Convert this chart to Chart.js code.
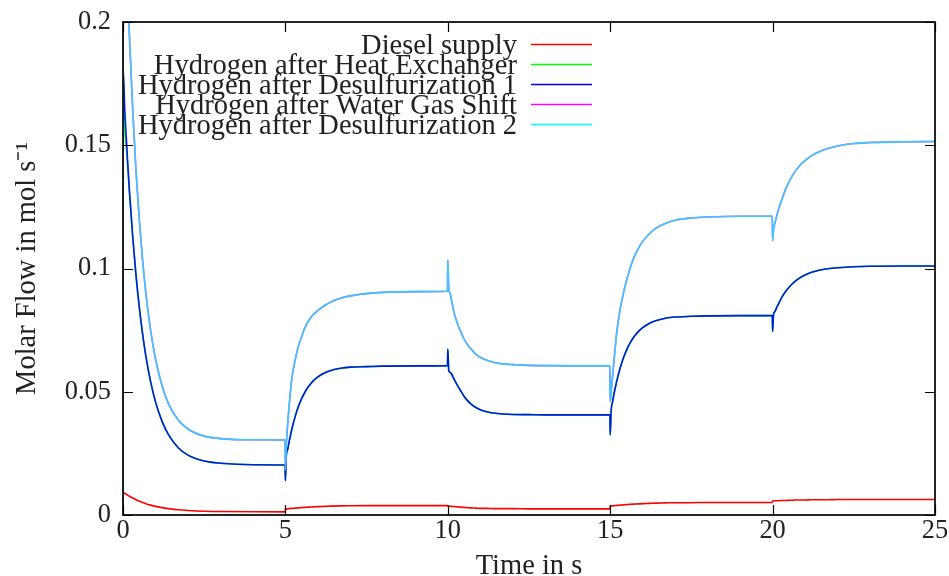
<!DOCTYPE html>
<html><head><meta charset="utf-8">
<script src="https://cdn.jsdelivr.net/npm/chart.js@4.4.1/dist/chart.umd.min.js"></script>
<style>html,body{margin:0;padding:0;background:#fff;}canvas{display:block;}</style>
</head><body>
<canvas id="c" width="949" height="576"></canvas>
<script>
// ---- data ----
const time = [
  0, 0.01, 0.05, 0.1, 0.15, 0.2, 0.3, 0.4, 0.5, 0.6, 0.7, 0.85, 1.0, 1.2, 1.4, 1.7, 2.0, 2.5, 3.0, 4.0, 4.99,
  5.0, 5.03, 5.07, 5.12, 5.2, 5.3, 5.4, 5.5, 5.6, 5.7, 5.85, 6.0, 6.2, 6.4, 6.7, 7.0, 7.5, 8.0, 9.0, 9.99,
  10.0, 10.03, 10.07, 10.12, 10.2, 10.3, 10.4, 10.5, 10.6, 10.7, 10.85, 11.0, 11.2, 11.4, 11.7, 12.0, 12.5, 13.0, 14.0, 14.99,
  15.0, 15.03, 15.07, 15.12, 15.2, 15.3, 15.4, 15.5, 15.6, 15.7, 15.85, 16.0, 16.2, 16.4, 16.7, 17.0, 17.5, 18.0, 19.0, 19.99,
  20.0, 20.03, 20.07, 20.12, 20.2, 20.3, 20.4, 20.5, 20.6, 20.7, 20.85, 21.0, 21.2, 21.4, 21.7, 22.0, 22.5, 23.0, 24.0, 25.0
];
const dieselSupply = [
  0.0092, 0.0092, 0.0088, 0.0084, 0.0080, 0.0076, 0.0069, 0.0062, 0.0056, 0.0051, 0.0046, 0.0040, 0.0035, 0.0030, 0.0026, 0.0021, 0.0018, 0.0015, 0.0014, 0.0013, 0.00128,
  0.0024, 0.0025, 0.0025, 0.0026, 0.0027, 0.0028, 0.0029, 0.0030, 0.0031, 0.0032, 0.0033, 0.0034, 0.0035, 0.0036, 0.0037, 0.00375, 0.0038, 0.0038, 0.0038, 0.0038,
  0.0036, 0.0036, 0.0035, 0.0035, 0.0034, 0.0033, 0.0032, 0.0031, 0.0030, 0.0029, 0.0028, 0.0027, 0.0027, 0.0026, 0.0026, 0.0026, 0.0025, 0.0025, 0.0025, 0.0025,
  0.0036, 0.0037, 0.0037, 0.0038, 0.0039, 0.0040, 0.0041, 0.0042, 0.0043, 0.0044, 0.0045, 0.0046, 0.0047, 0.0048, 0.0049, 0.0050, 0.0050, 0.0051, 0.0051, 0.0051,
  0.0057, 0.0057, 0.0058, 0.0058, 0.0058, 0.0059, 0.0059, 0.0060, 0.0060, 0.0061, 0.0061, 0.0061, 0.0062, 0.0062, 0.0062, 0.0063, 0.0063, 0.0063, 0.0063, 0.0063
];
const h2HeatExchanger = [
  0, 0.178, 0.158, 0.150, 0.1405, 0.1305, 0.1128, 0.0973, 0.0845, 0.0738, 0.0648, 0.0541, 0.0459, 0.0381, 0.0326, 0.0273, 0.0243, 0.0219, 0.0210, 0.0204, 0.0203,
  0.0139, 0.0243, 0.0266, 0.0301, 0.0349, 0.0399, 0.0440, 0.0472, 0.0498, 0.0519, 0.0543, 0.0560, 0.0576, 0.0586, 0.0595, 0.0600, 0.0602, 0.0604, 0.0605, 0.0606,
  0.0673, 0.0585, 0.0579, 0.0571, 0.0549, 0.0525, 0.0503, 0.0482, 0.0465, 0.0452, 0.0437, 0.0427, 0.0419, 0.0414, 0.0410, 0.0408, 0.0407, 0.0406, 0.0406, 0.0406,
  0.0325, 0.0425, 0.0457, 0.0493, 0.0542, 0.0593, 0.0635, 0.0668, 0.0695, 0.0717, 0.0742, 0.0760, 0.0777, 0.0788, 0.0798, 0.0803, 0.0806, 0.0808, 0.0809, 0.0809,
  0.0744, 0.0815, 0.0825, 0.0840, 0.0862, 0.0887, 0.0907, 0.0923, 0.0937, 0.0949, 0.0963, 0.0974, 0.0985, 0.0992, 0.0999, 0.1003, 0.1007, 0.1009, 0.1010, 0.1010
];
const h2Desulf1 = [
  0, 0.180, 0.166, 0.1534, 0.1418, 0.1312, 0.1128, 0.0973, 0.0845, 0.0738, 0.0648, 0.0541, 0.0459, 0.0381, 0.0326, 0.0273, 0.0243, 0.0219, 0.0210, 0.0204, 0.0203,
  0.0139, 0.0243, 0.0266, 0.0301, 0.0349, 0.0399, 0.0440, 0.0472, 0.0498, 0.0519, 0.0543, 0.0560, 0.0576, 0.0586, 0.0595, 0.0600, 0.0602, 0.0604, 0.0605, 0.0606,
  0.0673, 0.0585, 0.0579, 0.0571, 0.0549, 0.0525, 0.0503, 0.0482, 0.0465, 0.0452, 0.0437, 0.0427, 0.0419, 0.0414, 0.0410, 0.0408, 0.0407, 0.0406, 0.0406, 0.0406,
  0.0325, 0.0425, 0.0457, 0.0493, 0.0542, 0.0593, 0.0635, 0.0668, 0.0695, 0.0717, 0.0742, 0.0760, 0.0777, 0.0788, 0.0798, 0.0803, 0.0806, 0.0808, 0.0809, 0.0809,
  0.0744, 0.0815, 0.0825, 0.0840, 0.0862, 0.0887, 0.0907, 0.0923, 0.0937, 0.0949, 0.0963, 0.0974, 0.0985, 0.0992, 0.0999, 0.1003, 0.1007, 0.1009, 0.1010, 0.1010
];
const h2WaterGasShift = [
  0, 0.27, 0.251, 0.230, 0.211, 0.1937, 0.1642, 0.1398, 0.1201, 0.1038, 0.0905, 0.0749, 0.0634, 0.0525, 0.0452, 0.0385, 0.0349, 0.0320, 0.0310, 0.0305, 0.0304,
  0.0183, 0.0290, 0.0370, 0.0450, 0.0555, 0.0628, 0.0685, 0.0723, 0.0760, 0.0785, 0.0812, 0.0830, 0.0849, 0.0864, 0.0879, 0.0889, 0.0898, 0.0903, 0.0906, 0.0908,
  0.1034, 0.0915, 0.0900, 0.0868, 0.0818, 0.0776, 0.0743, 0.0714, 0.0693, 0.0676, 0.0654, 0.0640, 0.0628, 0.0620, 0.0613, 0.0610, 0.0607, 0.0606, 0.0605, 0.0605,
  0.0460, 0.0500, 0.0560, 0.0630, 0.0740, 0.0830, 0.0895, 0.0950, 0.0995, 0.1035, 0.1078, 0.1110, 0.1140, 0.1163, 0.1183, 0.1196, 0.1205, 0.1209, 0.1212, 0.1212,
  0.1113, 0.1160, 0.1183, 0.1210, 0.1247, 0.1285, 0.1322, 0.1350, 0.1375, 0.1395, 0.1420, 0.1438, 0.1458, 0.1472, 0.1487, 0.1497, 0.1507, 0.1511, 0.1514, 0.1515
];
const h2Desulf2 = [
  0, 0.27, 0.251, 0.230, 0.211, 0.1937, 0.1642, 0.1398, 0.1201, 0.1038, 0.0905, 0.0749, 0.0634, 0.0525, 0.0452, 0.0385, 0.0349, 0.0320, 0.0310, 0.0305, 0.0304,
  0.0183, 0.0290, 0.0370, 0.0450, 0.0555, 0.0628, 0.0685, 0.0723, 0.0760, 0.0785, 0.0812, 0.0830, 0.0849, 0.0864, 0.0879, 0.0889, 0.0898, 0.0903, 0.0906, 0.0908,
  0.1034, 0.0915, 0.0900, 0.0868, 0.0818, 0.0776, 0.0743, 0.0714, 0.0693, 0.0676, 0.0654, 0.0640, 0.0628, 0.0620, 0.0613, 0.0610, 0.0607, 0.0606, 0.0605, 0.0605,
  0.0460, 0.0500, 0.0560, 0.0630, 0.0740, 0.0830, 0.0895, 0.0950, 0.0995, 0.1035, 0.1078, 0.1110, 0.1140, 0.1163, 0.1183, 0.1196, 0.1205, 0.1209, 0.1212, 0.1212,
  0.1113, 0.1160, 0.1183, 0.1210, 0.1247, 0.1285, 0.1322, 0.1350, 0.1375, 0.1395, 0.1420, 0.1438, 0.1458, 0.1472, 0.1487, 0.1497, 0.1507, 0.1511, 0.1514, 0.1515
];
const seriesLabels = [
  'Diesel supply',
  'Hydrogen after Heat Exchanger',
  'Hydrogen after Desulfurization 1',
  'Hydrogen after Water Gas Shift',
  'Hydrogen after Desulfurization 2'
];
const seriesColors = ['#ff0000', '#00ff00', '#0000ff', '#ff00ff', '#00ffff'];
const xTicks = [0, 5, 10, 15, 20, 25];
const xTickLabels = ['0', '5', '10', '15', '20', '25'];
const yTicks = [0, 0.05, 0.1, 0.15, 0.2];
const yTickLabels = ['0', '0.05', '0.1', '0.15', '0.2'];
const xTitle = 'Time in s';
const yTitle = 'Molar Flow in mol s\u207B\u00B9';

// ---- chart ----
const FONT = '"Liberation Serif", "Times New Roman", serif';
const seriesValues = [dieselSupply, h2HeatExchanger, h2Desulf1, h2WaterGasShift, h2Desulf2];
const lineColors = ['#ff0000', '#00ff00', 'rgba(0,0,255,0.9)', '#ff00ff', 'rgba(0,255,255,0.8)'];

const datasets = seriesValues.map((vals, i) => ({
  label: seriesLabels[i],
  data: time.map((t, k) => ({x: t, y: vals[k]})),
  borderColor: lineColors[i],
  borderWidth: 1.6,
  pointRadius: 0,
  fill: false,
  cubicInterpolationMode: 'monotone',
  order: 5 - i
}));

const framePlugin = {
  id: 'frame',
  afterDatasetsDraw(chart) {
    const {ctx, chartArea: {left, right, top, bottom}, scales: {x, y}} = chart;
    ctx.save();
    ctx.strokeStyle = '#000';
    ctx.lineWidth = 1.2;
    ctx.beginPath();
    const tl = 10;
    x.ticks.forEach(t => {
      const px = Math.round(x.getPixelForValue(t.value)) + 0.5;
      ctx.moveTo(px, bottom); ctx.lineTo(px, bottom - tl);
      ctx.moveTo(px, top); ctx.lineTo(px, top + tl);
    });
    y.ticks.forEach(t => {
      const py = Math.round(y.getPixelForValue(t.value)) + 0.5;
      ctx.moveTo(left, py); ctx.lineTo(left + tl, py);
      ctx.moveTo(right, py); ctx.lineTo(right - tl, py);
    });
    ctx.stroke();
    ctx.lineWidth = 1.7;
    ctx.strokeRect(left, top, right - left, bottom - top);

    // legend (gnuplot style: right-aligned text, sample line on the right)
    ctx.font = '28.5px ' + FONT;
    ctx.textAlign = 'right';
    ctx.textBaseline = 'alphabetic';
    chart.data.datasets.forEach((ds, i) => {
      const rowY = top + 22.5 + 20 * i;
      ctx.fillStyle = '#222';
      ctx.fillText(ds.label, 517, rowY + 9.5);
      ctx.strokeStyle = seriesColors[i];
      ctx.lineWidth = 1.6;
      ctx.beginPath();
      ctx.moveTo(531, rowY); ctx.lineTo(592, rowY);
      ctx.stroke();
    });
    ctx.restore();
  }
};

new Chart(document.getElementById('c'), {
  type: 'line',
  data: {datasets},
  plugins: [framePlugin],
  options: {
    responsive: false,
    animation: false,
    devicePixelRatio: 1,
    layout: {padding: {top: 22, right: 14, left: 0, bottom: 0}},
    plugins: {legend: {display: false}, tooltip: {enabled: false}},
    scales: {
      x: {
        type: 'linear', min: 0, max: 25,
        afterBuildTicks: s => { s.ticks = xTicks.map(v => ({value: v})); },
        afterFit: s => { s.height = 61; },
        ticks: {
          callback: (v) => xTickLabels[xTicks.indexOf(v)],
          font: {family: FONT, size: 26.4}, color: '#222', padding: 0, maxRotation: 0, autoSkip: false
        },
        grid: {display: false, drawTicks: false},
        border: {display: false},
        title: {display: true, text: xTitle, font: {family: FONT, size: 28.5, lineHeight: 0.7}, color: '#222', padding: {top: 0, bottom: 0}}
      },
      y: {
        type: 'linear', min: 0, max: 0.2,
        afterBuildTicks: s => { s.ticks = yTicks.map(v => ({value: v})); },
        afterFit: s => { s.width = 123; },
        ticks: {
          callback: (v) => yTickLabels[yTicks.indexOf(v)],
          font: {family: FONT, size: 26.4, lineHeight: 0.5}, color: '#222', padding: 12, autoSkip: false
        },
        grid: {display: false, drawTicks: false},
        border: {display: false},
        title: {display: true, text: yTitle, font: {family: FONT, size: 28.5, lineHeight: 1.0}, color: '#222', padding: {top: 13, bottom: 0}}
      }
    }
  }
});
</script>
</body></html>
